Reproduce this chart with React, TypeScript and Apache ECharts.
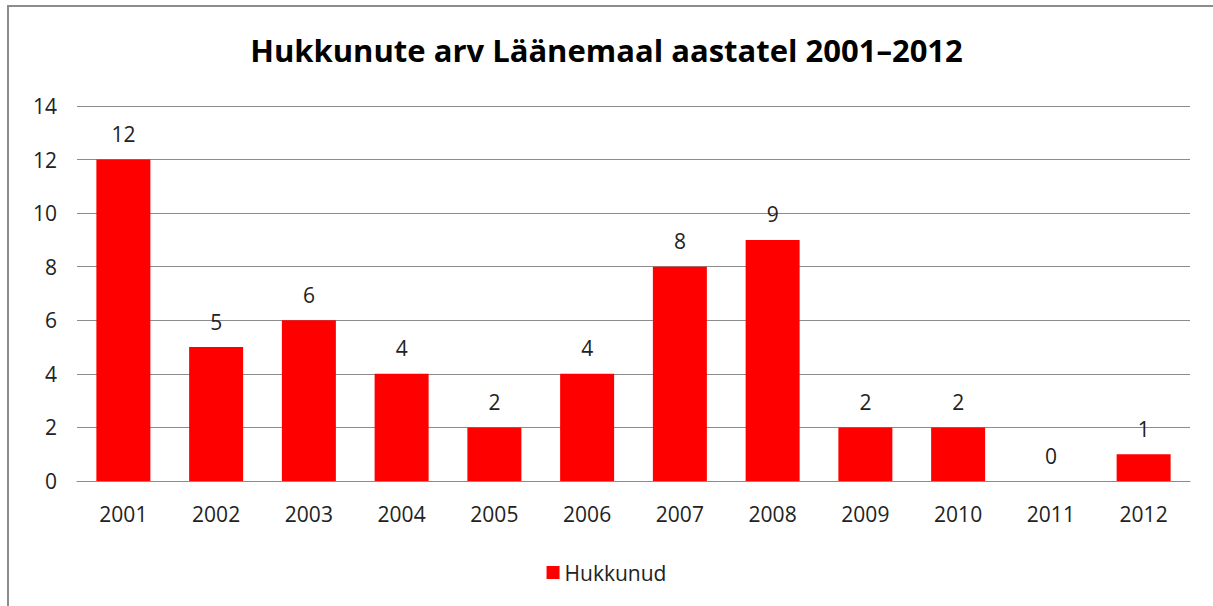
import React, { useEffect, useRef } from "react";
import * as echarts from "echarts";

const titleText = "Hukkunute arv Läänemaal aastatel 2001–2012";
const seriesName = "Hukkunud";
const years = ["2001", "2002", "2003", "2004", "2005", "2006", "2007", "2008", "2009", "2010", "2011", "2012"];
const deaths = [12, 5, 6, 4, 2, 4, 8, 9, 2, 2, 0, 1];

const FONT = "'Open Sans', 'Noto Sans', sans-serif";

export default function App() {
  const ref = useRef<HTMLDivElement>(null);
  useEffect(() => {
    if (!ref.current) return;
    const chart = echarts.init(ref.current, null, { renderer: "svg" });
    chart.setOption({
      animation: false,
      backgroundColor: "#ffffff",
      title: {
        text: titleText,
        left: "center",
        top: 29,
        textStyle: { fontFamily: FONT, fontWeight: "bold", fontSize: 31, color: "#000" },
      },
      graphic: [
        {
          type: "rect",
          shape: { x: 8, y: 6, width: 1240, height: 640 },
          style: { fill: "none", stroke: "#8c8c8c", lineWidth: 2 },
          silent: true,
        },
      ],
      legend: {
        data: [{ name: seriesName, icon: "rect" }],
        bottom: 18,
        left: "center",
        itemWidth: 13,
        itemHeight: 13,
        itemGap: 10,
        textStyle: { fontFamily: FONT, fontSize: 21, color: "#222" },
      },
      grid: { left: 77, right: 23, top: 106, bottom: 125, containLabel: false },
      xAxis: {
        type: "category",
        data: years,
        axisLine: { show: true, lineStyle: { color: "#8c8c8c", width: 1 } },
        axisTick: { show: false },
        axisLabel: { fontFamily: FONT, fontSize: 21, color: "#222", margin: 22 },
      },
      yAxis: {
        type: "value",
        min: 0,
        max: 14,
        interval: 2,
        axisLine: { show: false },
        axisTick: { show: false },
        axisLabel: { fontFamily: FONT, fontSize: 21, color: "#222", margin: 20 },
        splitLine: { lineStyle: { color: "#8c8c8c", width: 1 } },
      },
      series: [
        {
          name: seriesName,
          type: "bar",
          data: deaths,
          barWidth: 54,
          itemStyle: { color: "#ff0000" },
          label: {
            show: true,
            position: "top",
            distance: 15,
            fontFamily: FONT,
            fontSize: 21,
            color: "#222",
          },
        },
      ],
    });
    return () => chart.dispose();
  }, []);
  return (
    <div
      ref={ref}
      style={{ position: "absolute", left: 0, top: 0, width: 1213, height: 606 }}
    />
  );
}
